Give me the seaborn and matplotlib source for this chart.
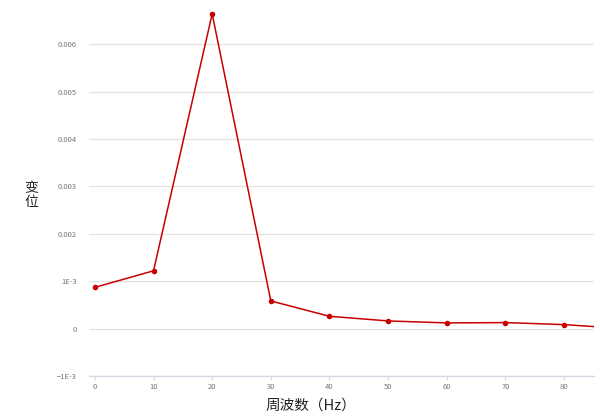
import pandas as pd
import seaborn as sns
import matplotlib.pyplot as plt

# datos
frecuencia = [0, 10, 20, 30, 40, 50, 60, 70, 80, 90]
desplazamiento = [0.00087, 0.00122, 0.00664, 0.000584, 0.00026,
                  0.000162, 0.00012, 0.000127, 0.000084, 0.000003]
y_ticks = [-0.001, 0, 0.001, 0.002, 0.003, 0.004, 0.005, 0.006]
y_tick_labels = ["−1E-3", "0", "1E-3", "0.002", "0.003", "0.004", "0.005", "0.006"]
x_ticks = [0, 10, 20, 30, 40, 50, 60, 70, 80]

df = pd.DataFrame({"x": frecuencia, "y": desplazamiento})

sns.set_theme(style="white")
plt.rcParams["font.family"] = ["Noto Sans CJK SC", "DejaVu Sans"]

fig = plt.figure(figsize=(6, 4.2), dpi=100)
# x: -1..85.1 -> px 89..594 ; y: -0.001..0.0069 -> px 376..1.6
ax = fig.add_axes([89 / 600, 1 - 376 / 420, (594 - 89) / 600, (376 - 1.6) / 420])

sns.lineplot(data=df, x="x", y="y", ax=ax, color="#c80000", linewidth=1.1,
             marker="o", markersize=4, markeredgewidth=0, zorder=3)

ax.set_xlim(-1, 85.1)
ax.set_ylim(-0.001, 0.0069)
ax.set_xticks(x_ticks)
ax.set_xticklabels([str(v) for v in x_ticks])
ax.set_yticks(y_ticks)
ax.set_yticklabels(y_tick_labels)

for s in ["top", "right", "left"]:
    ax.spines[s].set_visible(False)
ax.spines["bottom"].set_color("#d4dae3")
ax.spines["bottom"].set_linewidth(1.0)

ax.yaxis.grid(True, color="#e2e2e2", linewidth=0.9)
ax.xaxis.grid(False)
ax.tick_params(axis="x", length=3, width=0.8, color="#d4dae3", pad=2,
               labelsize=5.5, labelcolor="#777777", bottom=True)
ax.tick_params(axis="y", length=0, pad=9, labelsize=5.5, labelcolor="#777777")
ax.set_xlabel("")
ax.set_ylabel("")

fig.text(311 / 600, 1 - 406 / 420, "周波数（Hz）", ha="center", va="center",
         fontsize=10.5, color="#222222")
fig.text(31 / 600, 1 - 195 / 420, "变\n位", ha="center", va="center",
         fontsize=10, color="#222222", linespacing=1.0)

fig.savefig("out.png", dpi=100)
plt.close(fig)
